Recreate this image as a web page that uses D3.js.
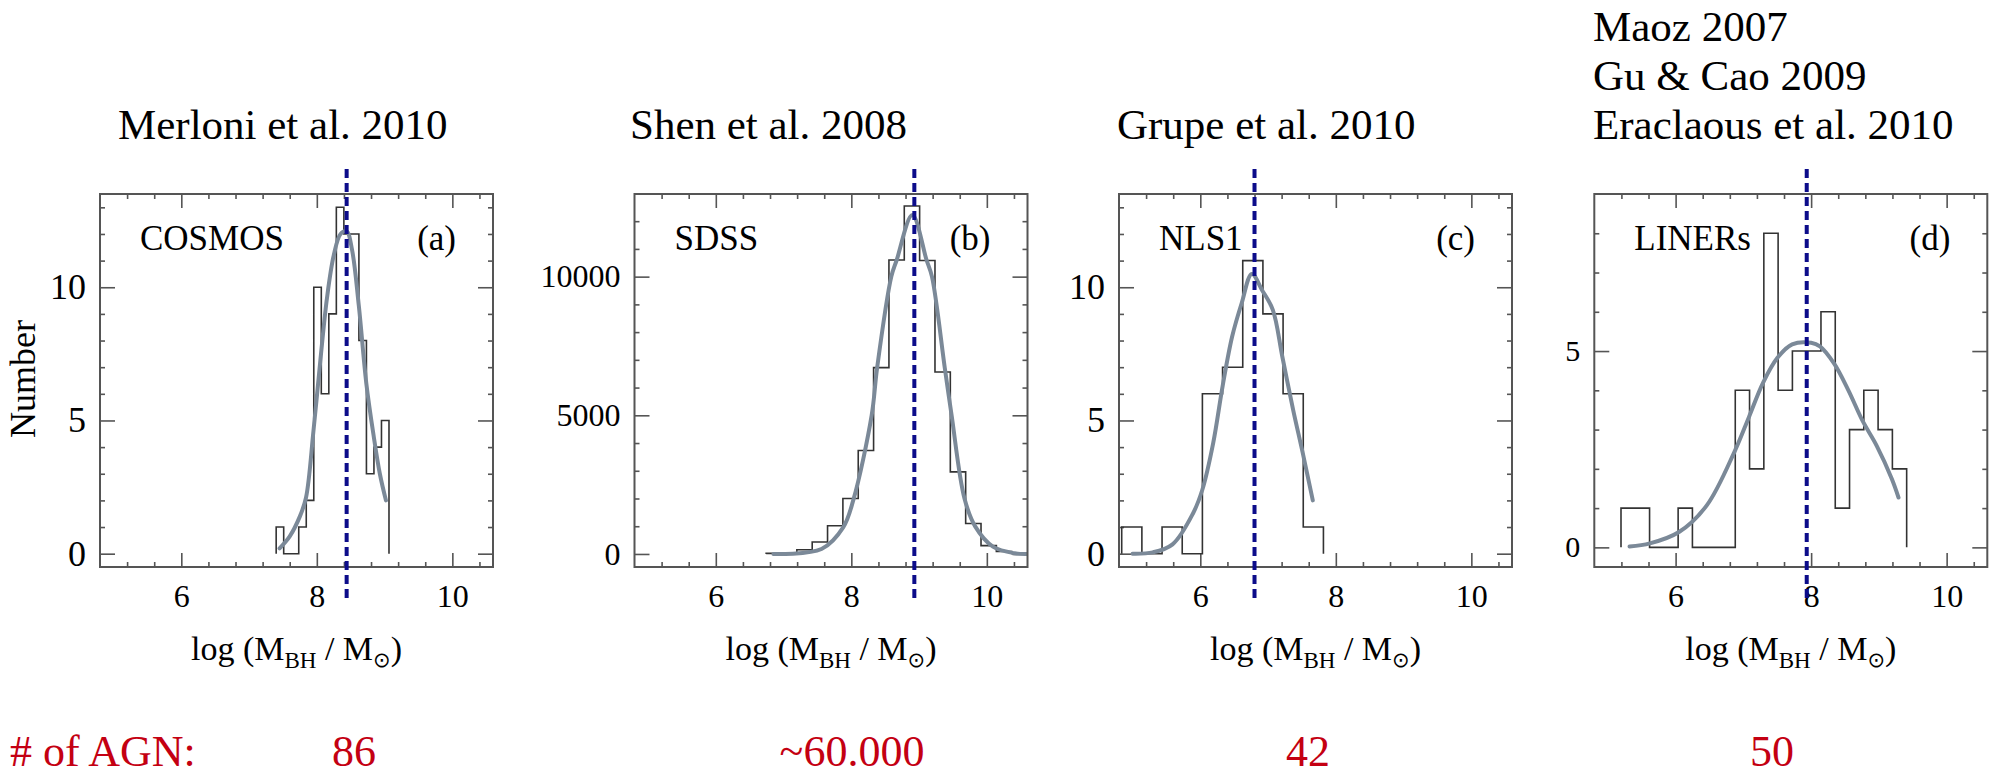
<!DOCTYPE html>
<html>
<head>
<meta charset="utf-8">
<script src="https://cdn.jsdelivr.net/npm/d3@7"></script>
<style>
  body { margin: 0; background: #fff; }
  svg { display: block; }
</style>
</head>
<body>
<script>
// ---- data ----
const panelIds = ["a", "b", "c", "d"];
const sampleNames = ["COSMOS", "SDSS", "NLS1", "LINERs"];
const titleLines = [
  ["Merloni et al. 2010"],
  ["Shen et al. 2008"],
  ["Grupe et al. 2010"],
  ["Maoz 2007", "Gu & Cao 2009", "Eraclaous et al. 2010"]
];
const agnCounts = ["86", "~60.000", "42", "50"];
const xMajorTicks = [6, 8, 10];
const yMajorTicks = [[0, 5, 10], [0, 5000, 10000], [0, 5, 10], [0, 5]];
const yMinorStep = [1, 1000, 1, 1];
const yDomains = [[-0.5, 13.5], [-470, 12980], [-0.5, 13.5], [-0.5, 9]];
const xDomain = [4.8, 10.6];

// histogram: first bin edge, bin width, counts per bin
const binStarts = [7.40, 6.743, 4.84, 5.194];
const binWidths = [0.111, 0.2265, 0.2977, 0.2108];
const countsA = [1, 0, 0, 1, 2, 10, 6, 9, 13, 12, 12, 8, 3, 4, 5];
const countsB = [20, 30, 150, 430, 1020, 2000, 3730, 6720, 10600, 12550, 10580, 6560, 2960, 1100, 300, 90, 20];
const countsC = [1, 0, 1, 0, 6, 7, 11, 9, 6, 1];
const countsD = [1, 1, 0, 0, 1, 0, 0, 0, 4, 2, 8, 4, 5, 5, 6, 1, 3, 4, 3, 2];

// fitted curves, points [logM, N]
const fitA = [[7.45, 0.2], [7.6, 0.65], [7.75, 1.4], [7.84, 2.1], [7.95, 4.6], [8.05, 7.2],
  [8.15, 9.6], [8.25, 11.2], [8.35, 12.0], [8.44, 12.1], [8.52, 11.4], [8.62, 9.3],
  [8.73, 6.4], [8.84, 4.4], [8.93, 3.0], [9.02, 2.0]];
const fitB = [[6.85, 0], [7.56, 180], [7.88, 960], [8.03, 1950], [8.30, 5000], [8.38, 6700],
  [8.59, 10000], [8.67, 10600], [8.90, 12220], [9.11, 10600], [9.19, 10000], [9.38, 6700],
  [9.48, 5000], [9.67, 2000], [9.83, 985], [10.09, 265], [10.41, 25], [10.6, 0]];
const fitC = [[5.0, 0], [5.3, 0.05], [5.59, 0.35], [5.89, 1.5], [6.03, 2.4], [6.19, 4.15],
  [6.33, 6.3], [6.47, 8.15], [6.61, 9.4], [6.76, 10.5], [6.91, 9.9], [7.07, 9.15],
  [7.21, 7.4], [7.37, 5.4], [7.51, 3.8], [7.66, 2.0]];
const fitD = [[5.32, 0.02], [5.62, 0.1], [6.05, 0.39], [6.46, 1.07], [6.87, 2.44], [7.08, 3.31],
  [7.29, 4.19], [7.50, 4.82], [7.72, 5.17], [8.0, 5.21], [8.13, 5.12], [8.34, 4.68],
  [8.55, 4.0], [8.76, 3.22], [8.97, 2.58], [9.19, 1.75], [9.29, 1.27]];
const peakMarkers = [8.44, 8.93, 6.80, 7.935];

const allCounts = [countsA, countsB, countsC, countsD];
const allFits = [fitA, fitB, fitC, fitD];

// ---- layout ----
const W = 2003, H = 778;
const frameLefts = [100, 634.5, 1119, 1594.3];
const frameW = 393, frameTop = 194, frameBottom = 567;
const titleX = [118, 630, 1117, 1593];
const titleBaseline = 139, titleLineGap = 49;
const yLabelSize = [36, 32, 36, 30];
const agnX = [354, 852, 1308, 1772];
const agnBaseline = 766;
const serif = "'Liberation Serif', 'Times New Roman', serif";

const svg = d3.select("body").append("svg")
  .attr("width", W).attr("height", H)
  .style("font-family", serif);

panelIds.forEach((id, i) => {
  const left = frameLefts[i];
  const x = d3.scaleLinear().domain(xDomain).range([left, left + frameW]);
  const y = d3.scaleLinear().domain(yDomains[i]).range([frameBottom, frameTop]);
  const g = svg.append("g").attr("class", "panel-" + id);

  g.append("clipPath").attr("id", "clip-" + id)
    .append("rect")
    .attr("x", left).attr("y", frameTop)
    .attr("width", frameW).attr("height", frameBottom - frameTop);

  // minor tick positions
  const xMinor = d3.range(5.2, 10.6, 0.4).filter(v => !xMajorTicks.some(t => Math.abs(t - v) < 1e-6));
  const yMinor = d3.range(yMinorStep[i], yDomains[i][1], yMinorStep[i])
    .filter(v => !yMajorTicks[i].includes(v));

  const tickStyle = sel => {
    sel.select(".domain").remove();
    sel.selectAll("line").attr("stroke", "#555").attr("stroke-width", 1.6);
  };

  // bottom / top axes
  g.append("g").attr("transform", `translate(0,${frameBottom})`)
    .call(d3.axisBottom(x).tickValues(xMinor).tickSize(-5).tickFormat(""))
    .call(tickStyle);
  g.append("g").attr("transform", `translate(0,${frameBottom})`)
    .call(d3.axisBottom(x).tickValues(xMajorTicks).tickSize(-14).tickPadding(17).tickFormat(d3.format("d")))
    .call(tickStyle)
    .call(s => s.selectAll("text").attr("fill", "#000").style("font-size", "32px").style("font-family", serif));
  g.append("g").attr("transform", `translate(0,${frameTop})`)
    .call(d3.axisTop(x).tickValues(xMinor).tickSize(-5).tickFormat(""))
    .call(tickStyle);
  g.append("g").attr("transform", `translate(0,${frameTop})`)
    .call(d3.axisTop(x).tickValues(xMajorTicks).tickSize(-14).tickFormat(""))
    .call(tickStyle);

  // left / right axes
  g.append("g").attr("transform", `translate(${left},0)`)
    .call(d3.axisLeft(y).tickValues(yMinor).tickSize(-5).tickFormat(""))
    .call(tickStyle);
  g.append("g").attr("transform", `translate(${left},0)`)
    .call(d3.axisLeft(y).tickValues(yMajorTicks[i]).tickSize(-15).tickPadding(14).tickFormat(d3.format("d")))
    .call(tickStyle)
    .call(s => s.selectAll("text").attr("fill", "#000").style("font-size", yLabelSize[i] + "px").style("font-family", serif));
  g.append("g").attr("transform", `translate(${left + frameW},0)`)
    .call(d3.axisRight(y).tickValues(yMinor).tickSize(-5).tickFormat(""))
    .call(tickStyle);
  g.append("g").attr("transform", `translate(${left + frameW},0)`)
    .call(d3.axisRight(y).tickValues(yMajorTicks[i]).tickSize(-15).tickFormat(""))
    .call(tickStyle);

  // histogram as a step outline
  const counts = allCounts[i];
  const edges = counts.map((c, k) => binStarts[i] + k * binWidths[i]);
  const lastEdge = binStarts[i] + counts.length * binWidths[i];
  const steps = [[edges[0], 0]]
    .concat(counts.map((c, k) => [edges[k], c]))
    .concat([[lastEdge, counts[counts.length - 1]], [lastEdge, 0]]);
  g.append("path")
    .datum(steps)
    .attr("clip-path", `url(#clip-${id})`)
    .attr("fill", "none")
    .attr("stroke", "#333")
    .attr("stroke-width", 1.6)
    .attr("d", d3.line().x(d => x(d[0])).y(d => y(d[1])).curve(d3.curveStepAfter));

  // fitted curve
  g.append("path")
    .datum(allFits[i])
    .attr("clip-path", `url(#clip-${id})`)
    .attr("fill", "none")
    .attr("stroke", "#7b8998")
    .attr("stroke-width", 4)
    .attr("stroke-linecap", "round")
    .attr("d", d3.line().x(d => x(d[0])).y(d => y(d[1])).curve(d3.curveCatmullRom));

  // frame
  g.append("rect")
    .attr("x", left).attr("y", frameTop)
    .attr("width", frameW).attr("height", frameBottom - frameTop)
    .attr("fill", "none").attr("stroke", "#555").attr("stroke-width", 2);

  // dashed marker
  g.append("line")
    .attr("x1", x(peakMarkers[i])).attr("x2", x(peakMarkers[i]))
    .attr("y1", frameTop - 25).attr("y2", frameBottom + 35)
    .attr("stroke", "#0c0c8a").attr("stroke-width", 4)
    .attr("stroke-dasharray", "9,5");

  // in-panel labels
  g.append("text").attr("x", left + 40).attr("y", 250)
    .style("font-size", "35px").text(sampleNames[i]);
  g.append("text").attr("x", left + frameW - 37).attr("y", 250)
    .attr("text-anchor", "end")
    .style("font-size", "35px").text("(" + id + ")");

  // x-axis title
  const xt = g.append("text")
    .attr("x", left + frameW / 2).attr("y", 660)
    .attr("text-anchor", "middle")
    .style("font-size", "34px");
  xt.append("tspan").text("log (M");
  xt.append("tspan").attr("dy", 8).style("font-size", "23px").text("BH");
  xt.append("tspan").attr("dy", -8).text(" / M");
  xt.append("tspan").attr("dy", 7).style("font-size", "21px").style("font-family", "'DejaVu Sans'").text("\u2299");
  xt.append("tspan").attr("dy", -7).text(")");

  // reference title(s) above the panel
  const lines = titleLines[i];
  lines.forEach((line, k) => {
    g.append("text")
      .attr("x", titleX[i])
      .attr("y", titleBaseline - (lines.length - 1 - k) * titleLineGap)
      .style("font-size", "43px")
      .text(line);
  });

  // number of objects
  svg.append("text")
    .attr("x", agnX[i]).attr("y", agnBaseline)
    .attr("text-anchor", "middle")
    .attr("fill", "#c40012")
    .style("font-size", "44px")
    .text(agnCounts[i]);
});

// y-axis title
svg.append("text")
  .attr("transform", "translate(35,379) rotate(-90)")
  .attr("text-anchor", "middle")
  .style("font-size", "36px")
  .text("Number");

svg.append("text")
  .attr("x", 10).attr("y", agnBaseline)
  .attr("fill", "#c40012")
  .style("font-size", "44px")
  .text("# of AGN:");
</script>
</body>
</html>
